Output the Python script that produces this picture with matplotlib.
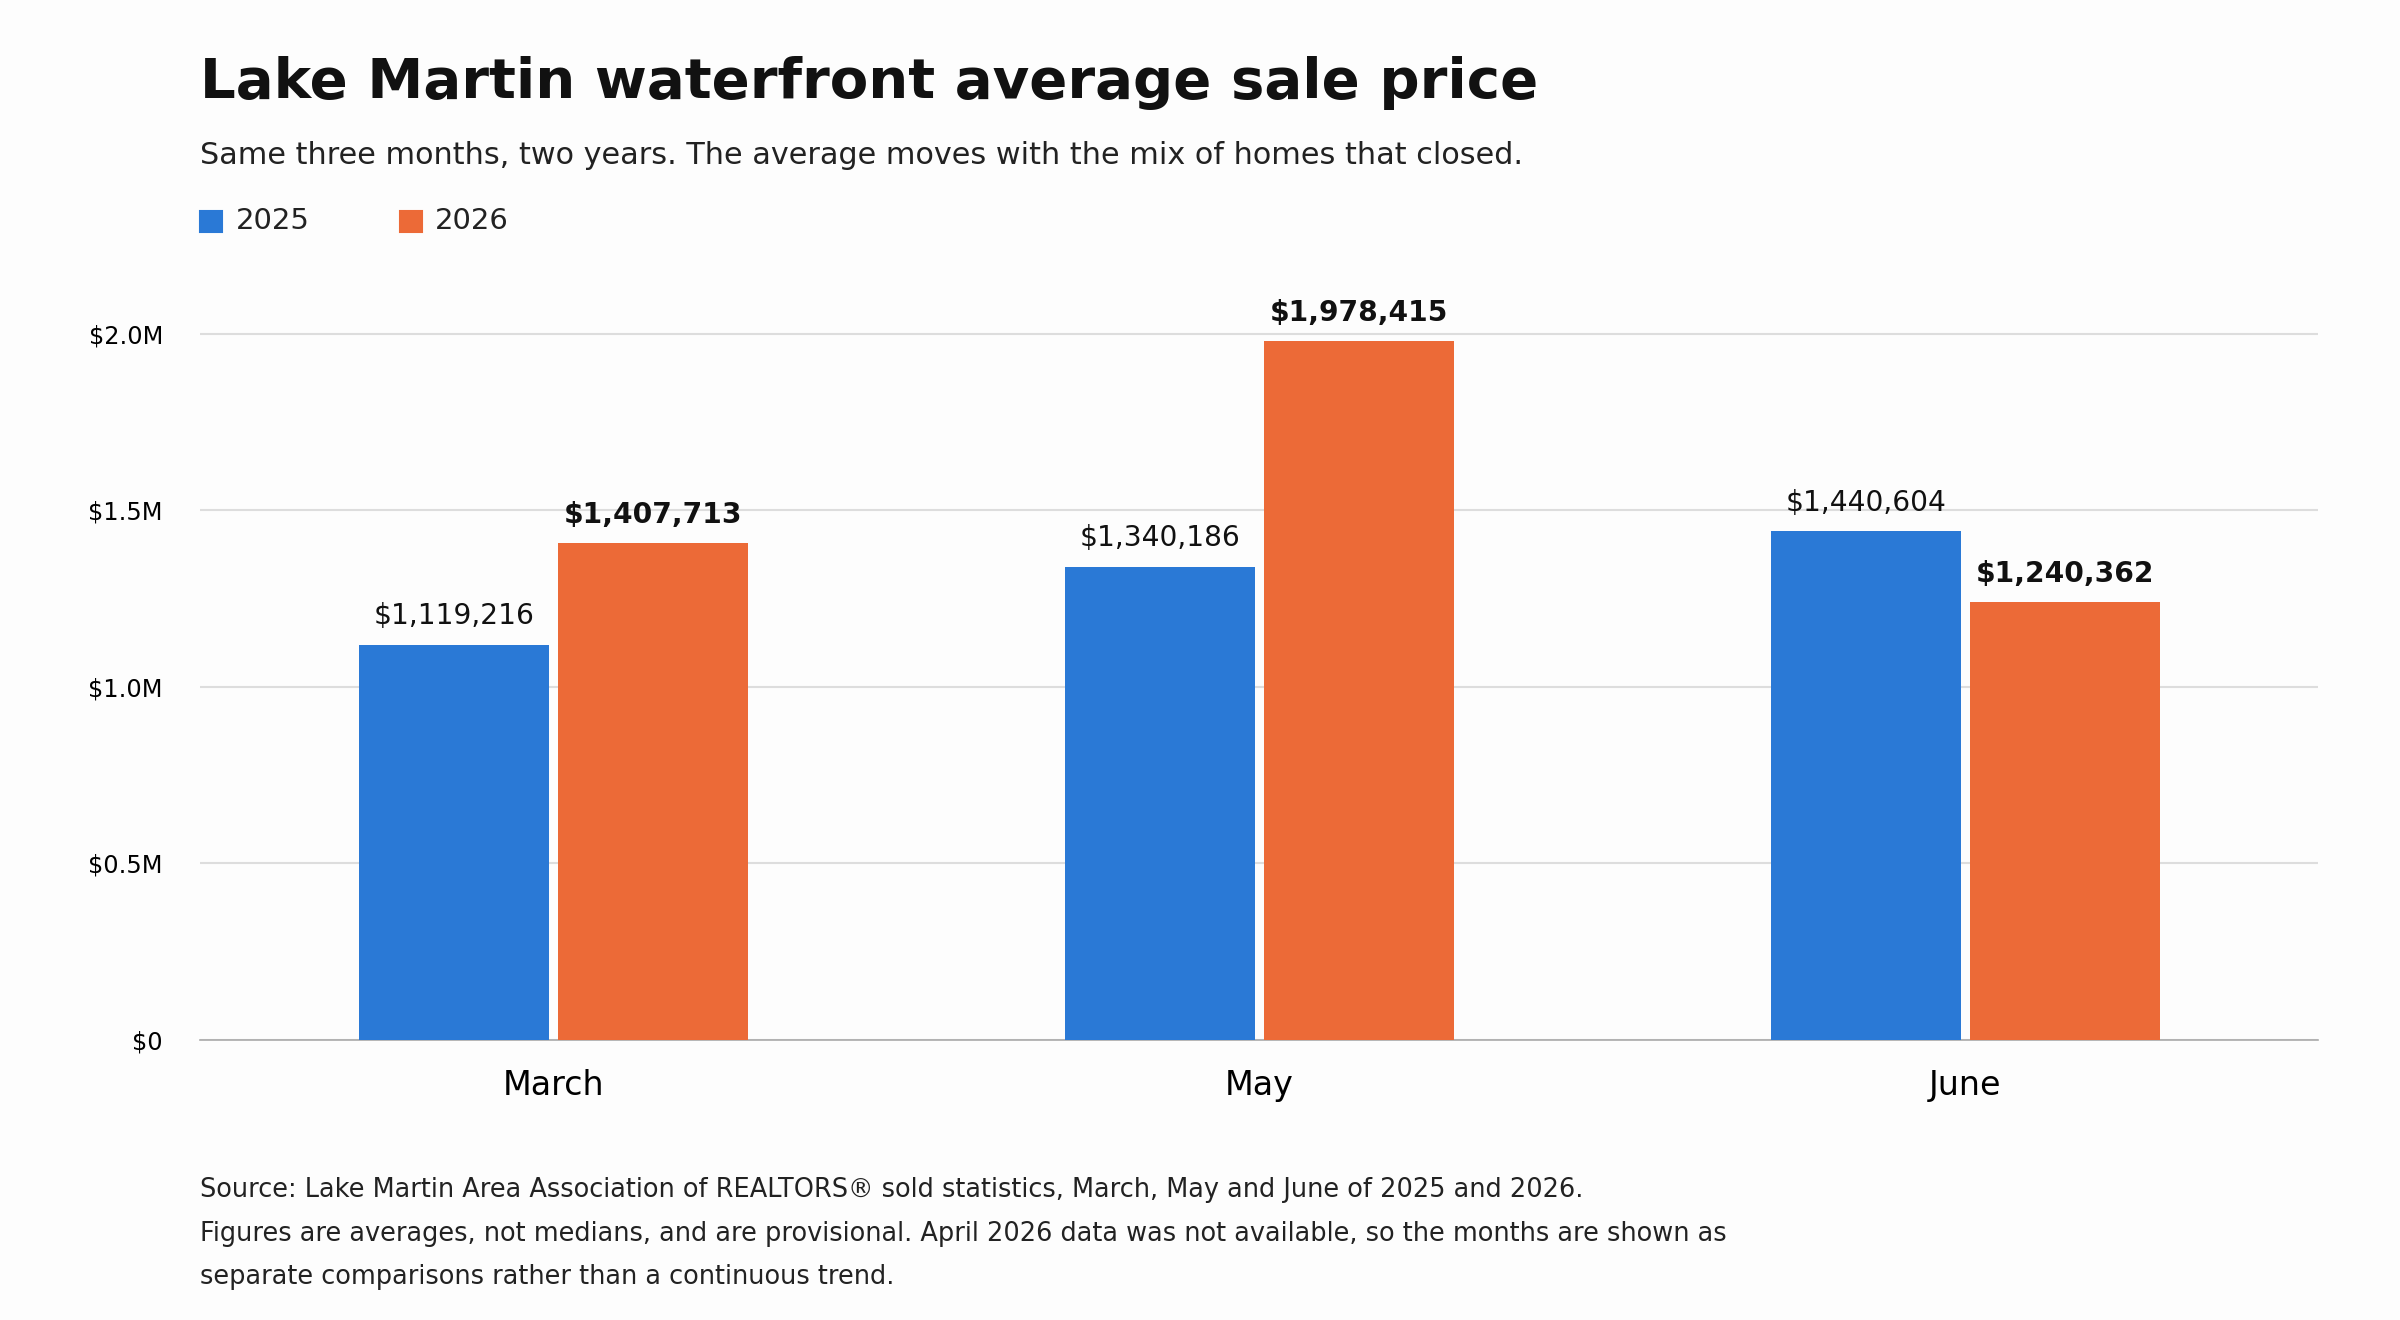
import matplotlib
matplotlib.use("Agg")
import matplotlib.pyplot as plt
import numpy as np
from matplotlib.patches import Rectangle

months = ["March", "May", "June"]
v2025 = [1119216, 1340186, 1440604]
v2026 = [1407713, 1978415, 1240362]
yticks = [0, 500000, 1000000, 1500000, 2000000]
ylabels = ["$0", "$0.5M", "$1.0M", "$1.5M", "$2.0M"]
c25, c26 = "#2a79d6", "#ec6a37"

fig = plt.figure(figsize=(16, 8.8), dpi=150, facecolor="#fdfdfd")
ax = fig.add_axes([0.0835, 0.2123, 0.8825, 0.5617])
ax.set_facecolor("#fdfdfd")
x = np.arange(len(months))
w = 0.27
off = 0.141
ax.bar(x - off, v2025, w, color=c25, zorder=3)
ax.bar(x + off, v2026, w, color=c26, zorder=3)
for i in range(3):
    ax.text(x[i] - off, v2025[i] + 40000, f"${v2025[i]:,}", ha="center", va="bottom", fontsize=13.5, color="#111")
    ax.text(x[i] + off, v2026[i] + 40000, f"${v2026[i]:,}", ha="center", va="bottom", fontsize=13.5, fontweight="bold", color="#111")
ax.set_xlim(-0.5, 2.5)
ax.set_ylim(0, 2100000)
ax.set_yticks(yticks)
ax.set_yticklabels(ylabels, fontsize=11.5)
ax.set_xticks(x)
ax.set_xticklabels(months, fontsize=16)
ax.tick_params(length=0)
ax.tick_params(axis="x", pad=14)
ax.tick_params(axis="y", pad=18)
ax.grid(axis="y", color="#dddddd", lw=1, zorder=0)
for s in ["top", "right", "left"]:
    ax.spines[s].set_visible(False)
ax.spines["bottom"].set_color("#aaaaaa")

fig.text(0.0835, 0.937, "Lake Martin waterfront average sale price", fontsize=27, fontweight="bold", va="center", color="#111")
fig.text(0.0835, 0.882, "Same three months, two years. The average moves with the mix of homes that closed.", fontsize=14.5, va="center", color="#222")
for lx, lab, c in [(0.0835, "2025", c25), (0.1665, "2026", c26)]:
    fig.patches.append(Rectangle((lx, 0.824), 0.0092, 0.0165, transform=fig.transFigure, color=c))
    fig.text(lx + 0.0148, 0.8325, lab, fontsize=14, va="center", color="#222")
foot = ["Source: Lake Martin Area Association of REALTORS® sold statistics, March, May and June of 2025 and 2026.",
        "Figures are averages, not medians, and are provisional. April 2026 data was not available, so the months are shown as",
        "separate comparisons rather than a continuous trend."]
for i, t in enumerate(foot):
    fig.text(0.0835, 0.0985 - i * 0.033, t, fontsize=12.3, va="center", color="#222")
fig.savefig("out.png", dpi=150, facecolor=fig.get_facecolor())
